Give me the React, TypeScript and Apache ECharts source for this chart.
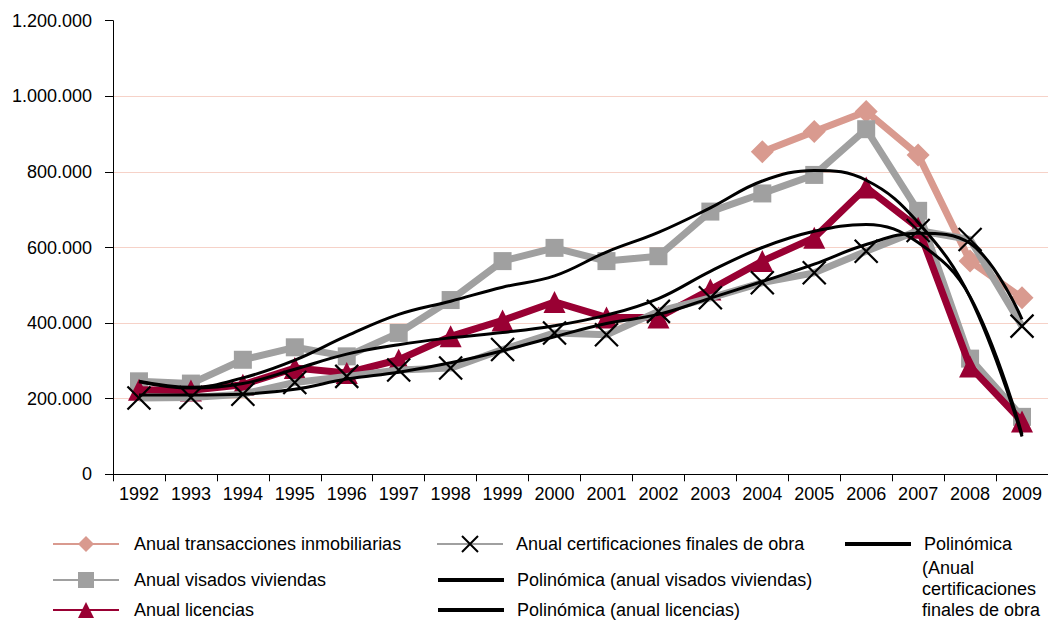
import React, { useEffect, useRef } from 'react';
import * as echarts from 'echarts';

const years = ['1992', '1993', '1994', '1995', '1996', '1997', '1998', '1999', '2000', '2001', '2002', '2003', '2004', '2005', '2006', '2007', '2008', '2009'];

const transacciones = [null, null, null, null, null, null, null, null, null, null, null, null, 853000, 907000, 960000, 845000, 564000, 467000];
const visados = [246000, 240000, 303000, 336000, 312000, 374000, 461000, 564000, 599000, 564000, 577000, 695000, 743000, 792000, 913000, 697000, 306000, 152000];
const licencias = [224000, 222000, 237000, 281000, 268000, 303000, 365000, 407000, 456000, 415000, 415000, 489000, 564000, 626000, 759000, 652000, 285000, 140000];
const certificaciones = [202000, 203000, 212000, 243000, 259000, 276000, 281000, 330000, 374000, 369000, 431000, 467000, 507000, 533000, 590000, 645000, 621000, 392000];

const trendVisados = [246000, 230000, 255000, 302000, 366000, 423000, 458000, 495000, 525000, 588000, 640000, 705000, 776000, 804000, 778000, 666000, 468000, 100000];
const trendLicencias = [245000, 228000, 240000, 278000, 318000, 343000, 361000, 375000, 393000, 421000, 465000, 537000, 600000, 643000, 661000, 613000, 470000, 105000];
const trendCertificaciones = [210000, 210000, 212000, 225000, 252000, 270000, 295000, 327000, 364000, 399000, 423000, 466000, 510000, 556000, 608000, 638000, 611000, 410000];

const yTicks = [0, 200000, 400000, 600000, 800000, 1000000, 1200000];

const N_TRANS = 'Anual transacciones inmobiliarias';
const N_VIS = 'Anual visados viviendas';
const N_LIC = 'Anual licencias';
const N_CERT = 'Anual certificaciones finales de obra';
const N_TVIS = 'Polinómica (anual visados viviendas)';
const N_TLIC = 'Polinómica (anual licencias)';
const N_TCERT = 'Polinómica (Anual certificaciones finales de obra)';

const FONT = "'Liberation Sans', Arial, Helvetica, sans-serif";
const PINK = '#D99A8F';
const GRAY = '#A0A0A0';
const RED = '#990033';
const GRID = '#F6D2C8';

function fmt(v: number): string {
  return String(v).replace(/\B(?=(\d{3})+(?!\d))/g, '.');
}

export default function App() {
  const ref = useRef<HTMLDivElement>(null);
  useEffect(() => {
    const chart = echarts.init(ref.current!, null, { renderer: 'svg' });
    const textStyleFor = (pad: number) => ({ fontFamily: FONT, fontSize: 18, color: '#000', padding: [0, 0, 0, pad] });
    const legendItem = (name: string, left: number, top: number, extra: any = {}) => ({
      data: [name],
      left,
      top,
      orient: 'horizontal',
      itemWidth: 66,
      itemHeight: 20,
      selectedMode: false,
      padding: 0,
      textStyle: textStyleFor(10),
      ...extra,
    });
    const trendLegend = {
      lineStyle: { width: 4, color: '#000' },
      itemStyle: { color: 'transparent', borderWidth: 0, borderColor: 'transparent' },
    };
    chart.setOption({
      animation: false,
      backgroundColor: '#fff',
      grid: { left: 113, top: 20.7, right: -2.5, bottom: 146.7, containLabel: false },
      xAxis: {
        type: 'category',
        data: years,
        boundaryGap: true,
        axisLine: { show: true, lineStyle: { color: '#000', width: 1 } },
        axisTick: { show: true, length: 7, alignWithLabel: false, lineStyle: { color: '#000' } },
        axisLabel: { interval: 0, color: '#000', fontFamily: FONT, fontSize: 18, margin: 11 },
        splitLine: { show: false },
      },
      yAxis: {
        type: 'value',
        min: yTicks[0],
        max: yTicks[yTicks.length - 1],
        interval: 200000,
        axisLine: { show: true, lineStyle: { color: '#000', width: 1 } },
        axisTick: { show: true, length: 8, lineStyle: { color: '#000' } },
        axisLabel: { color: '#000', fontFamily: FONT, fontSize: 18, margin: 21, formatter: (v: number) => fmt(v) },
        splitLine: { show: true, showMinLine: false, showMaxLine: false, lineStyle: { color: GRID, width: 1 } },
      },
      legend: [
        legendItem(N_TRANS, 52, 535),
        legendItem(N_VIS, 52, 571),
        legendItem(N_LIC, 52, 601),
        legendItem(N_CERT, 436, 535, { textStyle: textStyleFor(8) }),
        legendItem(N_TVIS, 436, 571, { ...trendLegend, textStyle: textStyleFor(8) }),
        legendItem(N_TLIC, 436, 601, { ...trendLegend, textStyle: textStyleFor(8) }),
        legendItem(N_TCERT, 843, 535, {
          ...trendLegend,
          formatter: () => 'Polinómica',
          textStyle: textStyleFor(8),
        }),
      ],
      graphic: [
        {
          type: 'text',
          left: 922,
          top: 557,
          style: {
            text: '(Anual\ncertificaciones\nfinales de obra',
            font: `18px ${FONT}`,
            lineHeight: 21,
            fill: '#000',
          },
        },
      ],
      series: [
        {
          name: N_TRANS,
          type: 'line',
          data: transacciones,
          symbol: 'diamond',
          symbolSize: 23,
          lineStyle: { color: PINK, width: 7 },
          itemStyle: { color: PINK },
          z: 2,
        },
        {
          name: N_VIS,
          type: 'line',
          data: visados,
          symbol: 'rect',
          symbolSize: 18,
          lineStyle: { color: GRAY, width: 7 },
          itemStyle: { color: GRAY },
          z: 3,
        },
        {
          name: N_LIC,
          type: 'line',
          data: licencias,
          symbol: 'triangle',
          symbolSize: 22,
          lineStyle: { color: RED, width: 7 },
          itemStyle: { color: RED },
          z: 4,
        },
        {
          name: N_CERT,
          type: 'line',
          data: certificaciones,
          symbol: 'path://M0,0L20,20M20,0L0,20',
          symbolSize: 23,
          lineStyle: { color: GRAY, width: 7 },
          itemStyle: { color: 'transparent', borderColor: '#000', borderWidth: 2.2 },
          z: 5,
        },
        {
          name: N_TVIS,
          type: 'line',
          data: trendVisados,
          symbol: 'none',
          smooth: 0.4,
          lineStyle: { color: '#000', width: 3 },
          itemStyle: { color: '#000' },
          z: 6,
        },
        {
          name: N_TLIC,
          type: 'line',
          data: trendLicencias,
          symbol: 'none',
          smooth: 0.4,
          lineStyle: { color: '#000', width: 3 },
          itemStyle: { color: '#000' },
          z: 6,
        },
        {
          name: N_TCERT,
          type: 'line',
          data: trendCertificaciones,
          symbol: 'none',
          smooth: 0.4,
          lineStyle: { color: '#000', width: 3 },
          itemStyle: { color: '#000' },
          z: 6,
        },
      ],
    });
    return () => chart.dispose();
  }, []);
  return <div ref={ref} style={{ position: 'absolute', left: 0, top: 0, width: 1048, height: 621 }} />;
}
